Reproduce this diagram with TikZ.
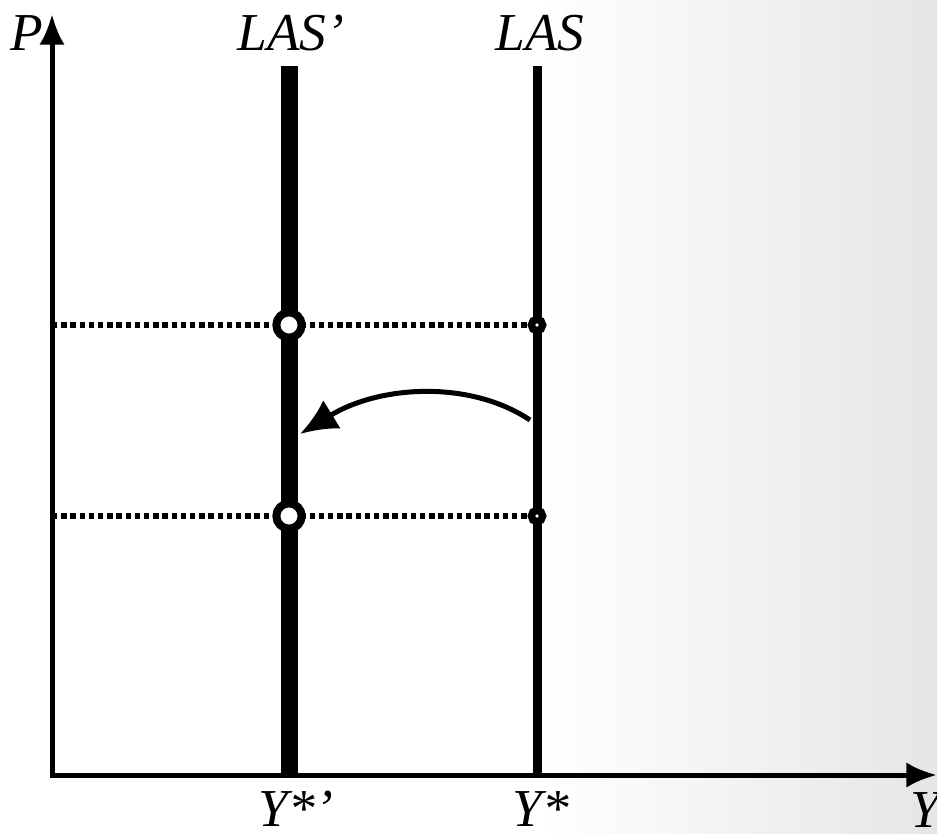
\documentclass[tikz,border=0pt]{standalone}
\usepackage{fontspec}
\setmainfont{Liberation Serif}
\usetikzlibrary{arrows.meta}
\begin{document}
\begin{tikzpicture}[x=0.75pt,y=-0.75pt,
  lbl/.style={font=\fontsize{40}{48}\selectfont\itshape, inner sep=0pt, anchor=base},
  axisline/.style={line width=3.75pt, -{Latex[length=23pt,width=19pt]}},
  dotline/.style={line width=3.9pt, line cap=butt, dash pattern=on 4.1pt off 2.8pt},
  bigring/.style={circle, draw=black, fill=white, line width=6pt, minimum size=19pt, inner sep=0pt},
  smallring/.style={circle, draw=black, fill=white, line width=5.5pt, minimum size=8.5pt, inner sep=0pt},
  shiftarrow/.style={line width=3.75pt, -{Latex[length=28pt,width=25pt]}}
]
\useasboundingbox (0,0) rectangle (937,833);
\fill[white] (0,0) rectangle (937,833);
\shade[left color=white, right color=black!10] (540,0) rectangle (937,833);

% coordinates
\coordinate (pbase) at (52,777.5);
\coordinate (ptop) at (52,14);
\coordinate (ybase) at (49.5,775);
\coordinate (yend) at (937,775);
\coordinate (lasptop) at (289,66);
\coordinate (laspbot) at (289,778);
\coordinate (lastop) at (537,66);
\coordinate (lasbot) at (537,778);
\coordinate (hleft) at (52,325);
\coordinate (lleft) at (52,516);
\coordinate (arrstart) at (530,420);
\coordinate (arrend) at (300,434);

% LAS curves
\draw[line width=12.75pt, line cap=butt] (lasptop) -- (laspbot);
\draw[line width=6.75pt, line cap=butt] (lastop) -- (lasbot);

% axes
\draw[axisline] (pbase) -- (ptop);
\draw[axisline] (ybase) -- (yend);

% dotted lines
\draw[dotline] (hleft) -- (537,325);
\draw[dotline] (lleft) -- (537,516);

% equilibrium points
\node[bigring] (lasphigh) at (289,325) {};
\node[bigring] (lasplow) at (289,516) {};
\node[smallring] (lashigh) at (537,325) {};
\node[smallring] (laslow) at (537,516) {};

% shift arrow
\draw[shiftarrow] (arrstart) .. controls (470,380) and (380,385) .. (arrend);

% labels
\node[lbl] (plbl) at (27,50) {P};
\node[lbl] (lasplbl) at (291,50) {LAS’};
\node[lbl] (laslbl) at (540,50) {LAS};
\node[lbl] (ysplbl) at (296,826) {Y*’};
\node[lbl] (yslbl) at (541,826) {Y*};
\node[lbl] (ylbl) at (925,827) {Y};
\end{tikzpicture}
\end{document}
